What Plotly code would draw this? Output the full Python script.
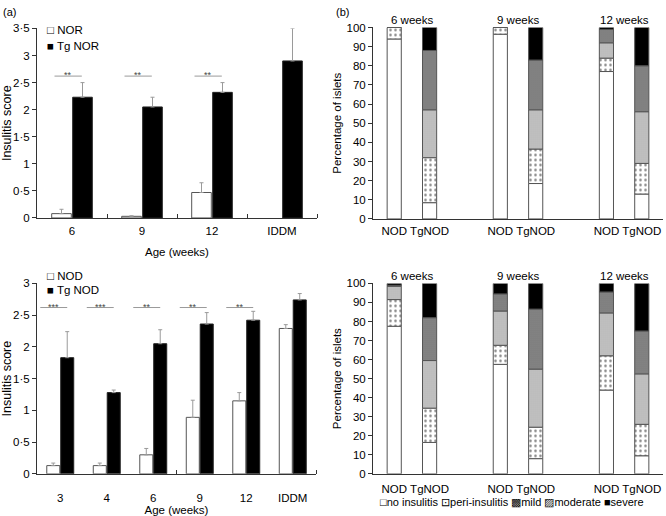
import numpy as np
import plotly.graph_objects as go

# ---------------- data ----------------
# Panel (a) top: NOR vs Tg NOR
a1_categories = ["6", "9", "12", "IDDM"]
a1_nor = [0.08, 0.03, 0.47, None]
a1_nor_err = [0.08, 0.01, 0.18, None]
a1_tg = [2.23, 2.05, 2.32, 2.90]
a1_tg_err = [0.27, 0.18, 0.18, 0.60]
a1_sig = {"6": "**", "9": "**", "12": "**"}

# Panel (a) bottom: NOD vs Tg NOD
a2_categories = ["3", "4", "6", "9", "12", "IDDM"]
a2_nod = [0.13, 0.13, 0.30, 0.89, 1.15, 2.29]
a2_nod_err = [0.04, 0.04, 0.10, 0.27, 0.13, 0.06]
a2_tg = [1.83, 1.28, 2.05, 2.36, 2.42, 2.74]
a2_tg_err = [0.41, 0.04, 0.22, 0.18, 0.14, 0.10]
a2_sig = {"3": "***", "4": "***", "6": "**", "9": "**", "12": "**"}

# Panel (b): insulitis grade distribution
b_groups = ["6 weeks", "9 weeks", "12 weeks"]
b_strains = ["NOD", "TgNOD"]
b_grades = ["no insulitis", "peri-insulitis", "mild", "moderate", "severe"]
b_top = {
    "no insulitis":   [94.0, 8.5, 96.5, 18.5, 77.0, 13.0],
    "peri-insulitis": [6.0, 23.5, 3.5, 18.0, 7.0, 16.0],
    "mild":           [0.0, 25.0, 0.0, 20.5, 8.0, 27.0],
    "moderate":       [0.0, 31.0, 0.0, 26.0, 7.0, 24.0],
    "severe":         [0.0, 12.0, 0.0, 17.0, 1.0, 20.0],
}
b_bottom = {
    "no insulitis":   [77.5, 16.5, 57.5, 8.0, 44.0, 9.5],
    "peri-insulitis": [14.0, 18.0, 10.0, 16.5, 18.0, 16.5],
    "mild":           [7.0, 25.0, 18.0, 30.5, 22.5, 26.5],
    "moderate":       [0.5, 22.5, 9.0, 31.5, 11.0, 22.5],
    "severe":         [1.0, 18.0, 5.5, 13.5, 4.5, 25.0],
}

# ---------------- styling ----------------
W, H = 666, 516
FONT = "Liberation Sans, Arial, Helvetica, sans-serif"
AX = "#333333"
ERR = "#9a9a9a"
CLEAR = "rgba(0,0,0,0)"

def px_x(p):
    return p / W

def px_y(p):
    return 1 - p / H

fig = go.Figure()

def dot(v):
    return ("%g" % v).replace(".", "\u00b7")

# ---------- (a) bar panels ----------
def add_a_panel(cats, v1, e1, v2, e2, name1, name2, xa, ya):
    idx = list(range(len(cats)))
    fig.add_trace(go.Bar(
        x=idx, y=v1, width=0.28, offset=-0.29, name=name1,
        marker=dict(color="white", line=dict(color="#555555", width=1)),
        error_y=dict(type="data", array=e1, arrayminus=[0] * len(cats), symmetric=False,
                     color=ERR, thickness=1, width=2),
        xaxis=xa, yaxis=ya, showlegend=False))
    fig.add_trace(go.Bar(
        x=idx, y=v2, width=0.28, offset=0.01, name=name2,
        marker=dict(color="black", line=dict(color="#222222", width=1)),
        error_y=dict(type="data", array=e2, arrayminus=[0] * len(cats), symmetric=False,
                     color=ERR, thickness=1, width=2),
        xaxis=xa, yaxis=ya, showlegend=False))

add_a_panel(a1_categories, a1_nor, a1_nor_err, a1_tg, a1_tg_err, "NOR", "Tg NOR", "x", "y")
add_a_panel(a2_categories, a2_nod, a2_nod_err, a2_tg, a2_tg_err, "NOD", "Tg NOD", "x2", "y2")

shapes = []
annotations = []

def add_sig(cats, sig, xref, yref, left, right, level):
    for c, stars in sig.items():
        i = cats.index(c)
        shapes.append(dict(type="line", xref=xref, yref=yref, x0=i - left, x1=i + right,
                           y0=level, y1=level, line=dict(color=ERR, width=1)))
        annotations.append(dict(xref=xref, yref=yref, x=i - (left - right) / 2, y=level,
                                text=stars, showarrow=False, yanchor="bottom", yshift=-6,
                                font=dict(size=9, color="#444444", family=FONT)))

add_sig(a1_categories, a1_sig, "x", "y", 0.25, 0.14, 2.62)
add_sig(a2_categories, a2_sig, "x2", "y2", 0.43, 0.15, 2.62)

# ---------- (b) stacked panels ----------
positions = []
for g in range(len(b_groups)):
    for s in range(len(b_strains)):
        positions.append(3 * g + s)
tick_text = b_strains * len(b_groups)

grade_style = {
    "no insulitis": dict(color="white"),
    "peri-insulitis": dict(color="white",
                           pattern=dict(shape=".", fgcolor="black", bgcolor="white",
                                        size=5, solidity=0.2)),
    "mild": dict(color="#bdbdbd",
                 pattern=dict(shape=".", fgcolor="#9a9a9a", bgcolor="#c6c6c6",
                              size=2, solidity=0.4)),
    "moderate": dict(color="#777777",
                     pattern=dict(shape=".", fgcolor="#2a2a2a", bgcolor="#9c9c9c",
                                  size=2, solidity=0.55)),
    "severe": dict(color="black"),
}

def add_b_panel(data, xa, ya):
    base = np.zeros(len(positions))
    for g in b_grades:
        vals = np.array(data[g])
        m = dict(grade_style[g])
        m["line"] = dict(color="#555555", width=1)
        fig.add_trace(go.Bar(x=positions, y=vals, base=base.copy(), width=0.4, name=g,
                             marker=m, xaxis=xa, yaxis=ya, showlegend=False))
        base = base + vals
    for gi, gname in enumerate(b_groups):
        annotations.append(dict(xref=xa, yref=ya + " domain", x=3 * gi + 0.5, y=1,
                                yanchor="bottom", yshift=-1, text=gname, showarrow=False,
                                font=dict(size=11.5, color="black", family=FONT)))

add_b_panel(b_top, "x3", "y3")
add_b_panel(b_bottom, "x4", "y4")

# ---------- legends (text glyphs as in original) ----------
def legend_text(x, y, text, size=11.5):
    annotations.append(dict(xref="paper", yref="paper", x=px_x(x), y=px_y(y), xanchor="left",
                            yanchor="middle", text=text, showarrow=False,
                            font=dict(size=size, color="black", family=FONT)))

legend_text(45, 25, "\u25a1 NOR")
legend_text(45, 41, "\u25a0 Tg NOR")
legend_text(45, 276, "\u25a1 NOD")
legend_text(45, 291, "\u25a0 Tg NOD")
legend_text(378, 508, "\u25a1no insulitis \u22a1peri-insulitis \u25a9mild \u25a8moderate \u25a0severe", 11)

# panel labels
for lab, x in (("(a)", 1), ("(b)", 334)):
    annotations.append(dict(xref="paper", yref="paper", x=px_x(x), y=px_y(6), xanchor="left",
                            yanchor="middle", text=lab, showarrow=False,
                            font=dict(size=11, color="black", family=FONT)))

# ---------- axes ----------
tickfont = dict(size=11.5, color="black", family=FONT)
titlefont = dict(size=11.5, color="black", family=FONT)

def yax_a(top_val, top_px, bot_px):
    vals = list(np.arange(0, top_val + 0.001, 0.5))
    return dict(domain=[px_y(bot_px), px_y(top_px)], range=[0, top_val], tickmode="array",
                tickvals=vals, ticktext=[dot(v) for v in vals], ticks="outside", ticklen=4,
                tickcolor=AX, showline=True, linecolor=AX, linewidth=1, showgrid=False,
                zeroline=False, tickfont=tickfont,
                title=dict(text="Insulitis score", font=dict(titlefont, size=12.5), standoff=4))

def xax_a(cats, left_px, right_px, rng, boundaries, lab_gap, title_standoff):
    n = len(cats)
    return dict(domain=[px_x(left_px), px_x(right_px)], range=rng, tickmode="array",
                tickvals=list(range(n)), ticktext=cats, ticks="outside", ticklen=lab_gap,
                tickcolor=CLEAR, showline=True,
                linecolor=AX, linewidth=1, showgrid=False, zeroline=False, tickfont=tickfont,
                ticklabeloverflow="allow",
                minor=dict(tickmode="array", tickvals=boundaries,
                           ticks="inside", ticklen=4, tickcolor=AX, showgrid=False),
                title=dict(text="Age (weeks)", font=titlefont, standoff=title_standoff))

def yax_b(top_px, bot_px):
    return dict(domain=[px_y(bot_px), px_y(top_px)], range=[0, 100], tickmode="linear",
                tick0=0, dtick=10, ticks="outside", ticklen=4, tickcolor=AX, showline=True,
                linecolor=AX, linewidth=1, showgrid=False, zeroline=False, tickfont=tickfont,
                title=dict(text="Percentage of islets", font=titlefont, standoff=2))

def xax_b(left_px, right_px, lab_gap):
    return dict(domain=[px_x(left_px), px_x(right_px)], range=[-0.6, 7.6], tickmode="array",
                tickvals=positions, ticktext=tick_text, ticks="outside", ticklen=lab_gap,
                tickcolor=CLEAR, showline=True,
                linecolor=AX, linewidth=1, showgrid=False, zeroline=False, tickfont=tickfont,
                ticklabeloverflow="allow")

layout = dict(
    width=W, height=H, margin=dict(l=0, r=0, t=0, b=0),
    paper_bgcolor="white", plot_bgcolor="white", barmode="overlay",
    font=dict(family=FONT, size=11, color="black"),
    xaxis=dict(xax_a(a1_categories, 37, 317, [-0.5, 3.5], [0.5, 1.5, 2.5, 3.5], 2, 12),
               anchor="y"),
    yaxis=dict(yax_a(3.5, 23, 217), anchor="x"),
    xaxis2=dict(xax_a(a2_categories, 37, 316, [-0.5, 5.5], [2.5, 5.5], 13, 0), anchor="y2"),
    yaxis2=dict(yax_a(3.0, 284, 479), anchor="x2"),
    xaxis3=dict(xax_b(373, 663, 1), anchor="y3"),
    yaxis3=dict(yax_b(22, 218), anchor="x3"),
    xaxis4=dict(xax_b(373, 663, 4), anchor="y4"),
    yaxis4=dict(yax_b(284, 479), anchor="x4"),
    shapes=shapes, annotations=annotations,
)
fig.update_layout(**layout)
fig.write_html("out.html", config={"displayModeBar": False},
               post_script="document.body.style.margin='0';document.body.style.overflow='hidden';")
